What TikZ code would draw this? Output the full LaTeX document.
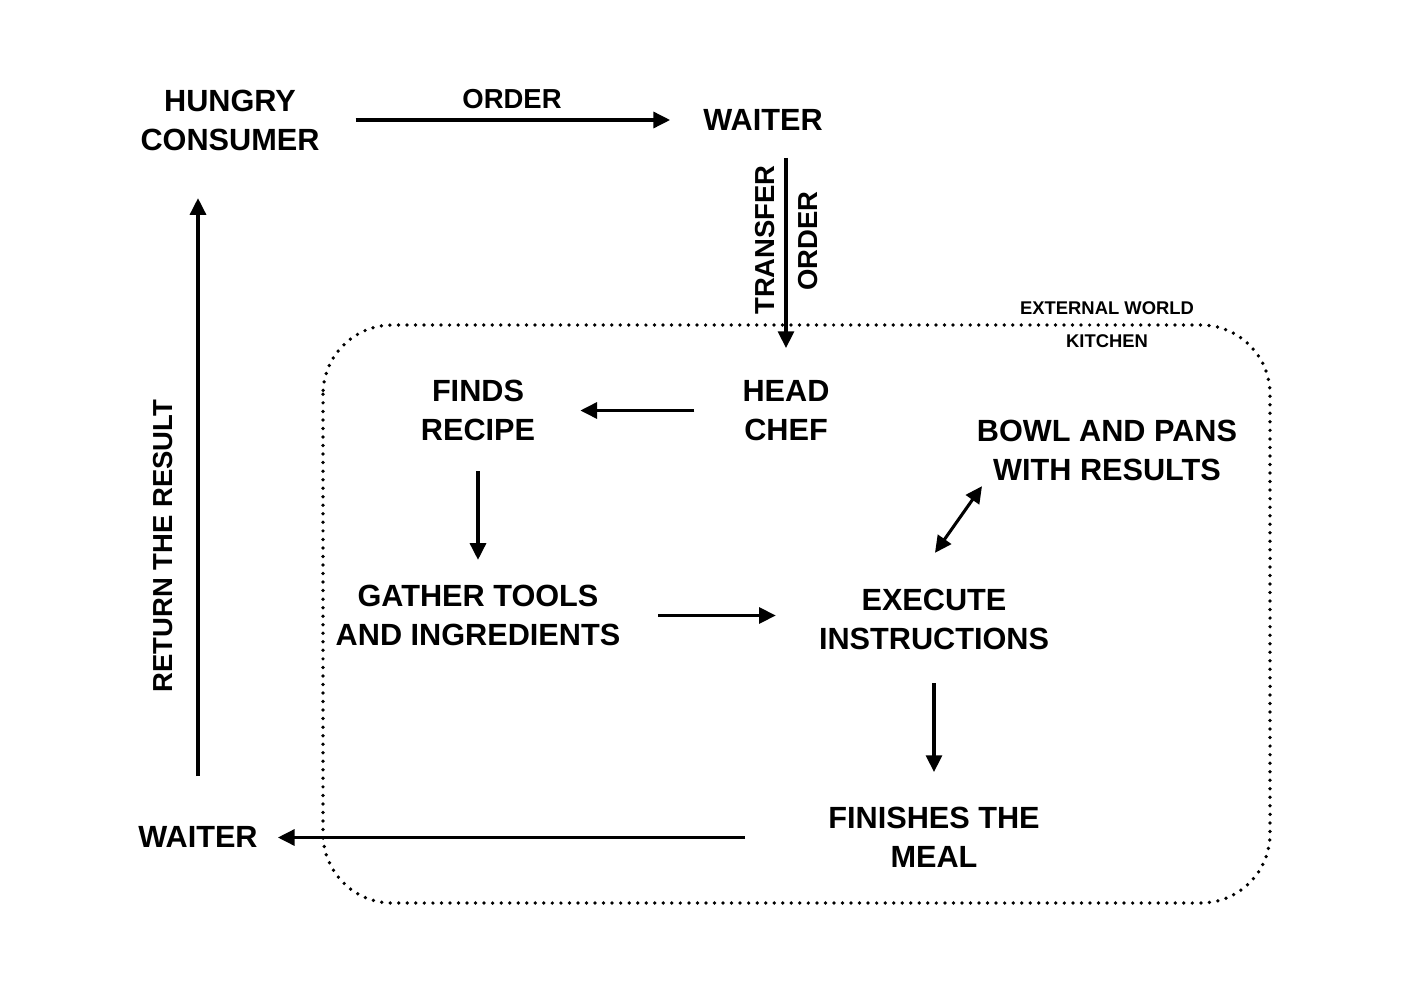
\documentclass[tikz,border=0pt]{standalone}
\usepackage{fontspec}
\setmainfont{Liberation Sans}
\usetikzlibrary{arrows.meta,calc}
\tikzset{
  box/.style={font=\bfseries\fontsize{23}{29.3}\selectfont, align=center, inner sep=0pt},
  lbl/.style={font=\bfseries\fontsize{20.6}{25}\selectfont, inner sep=0pt},
  small/.style={font=\bfseries\fontsize{13.8}{16}\selectfont, inner sep=0pt},
  tip/.style={},
  arr/.style={line width=2.3pt, -{Triangle[length=12.5pt,width=12pt]}},
  dbl/.style={line width=2.3pt, {Triangle[length=12.5pt,width=12pt]}-{Triangle[length=12.5pt,width=12pt]}},
  border/.style={line width=2.8pt, line cap=round, dash pattern=on 0pt off 6.4pt, rounded corners=52pt}
}
\begin{document}
\begin{tikzpicture}[x=0.75pt,y=-0.75pt]
\useasboundingbox (0,0) rectangle (1410,1006);
\fill[white] (0,0) rectangle (1410,1006);

\draw[border] (323,325) rectangle (1270,903);

\node[box] (hungry) at (230,120.5) {HUNGRY\\CONSUMER};
\node[box] (waiter) at (763,120) {WAITER};
\node[box] (chef) at (786,410.5) {HEAD\\CHEF};
\node[box] (recipe) at (478,410.5) {FINDS\\RECIPE};
\node[box] (gather) at (478,615.5) {GATHER TOOLS\\AND INGREDIENTS};
\node[box] (exec) at (934,619.5) {EXECUTE\\INSTRUCTIONS};
\node[box] (bowl) at (1107,450.5) {BOWL AND PANS\\WITH RESULTS};
\node[box] (finish) at (934,837.5) {FINISHES THE\\MEAL};
\node[box] (waiter2) at (198,837) {WAITER};

\node[lbl] (orderlbl) at (512,99) {ORDER};
\node[lbl, rotate=90] (transferlbl) at (765,240) {TRANSFER};
\node[lbl, rotate=90] (orderlbl2) at (808,241) {ORDER};
\node[lbl, rotate=90] (returnlbl) at (163,546) {RETURN THE RESULT};
\node[small] (extlbl) at (1107,308) {EXTERNAL WORLD};
\node[small] (kitlbl) at (1107,341) {KITCHEN};

\draw[arr, shorten <=36*0.75pt, shorten >=33*0.75pt] (hungry.east |- waiter.west) -- (waiter.west);
\draw[arr, shorten <=27*0.75pt, shorten >=32*0.75pt] (chef.north |- waiter.south) -- (chef.north);
\draw[arr, shorten <=48*0.75pt, shorten >=45*0.75pt] (chef.west) -- (recipe.east);
\draw[arr, shorten <=30*0.75pt, shorten >=25*0.75pt] (recipe.south) -- (gather.north);
\draw[arr, shorten <=37.5*0.75pt, shorten >=43*0.75pt] (gather.east) -- (exec.west |- gather.east);
\draw[dbl] ($(exec.north)+(1,-36)$) -- ($(bowl.south)+(-125,5)$);
\draw[arr, shorten <=33*0.75pt, shorten >=35*0.75pt] (exec.south) -- (finish.north);
\draw[arr, shorten <=83*0.75pt, shorten >=20*0.75pt] (finish.west) -- (waiter2.east |- finish.west);
\draw[arr, shorten <=50*0.75pt, shorten >=47*0.75pt] (waiter2.north) -- (waiter2.north |- hungry.south);
\end{tikzpicture}
\end{document}
